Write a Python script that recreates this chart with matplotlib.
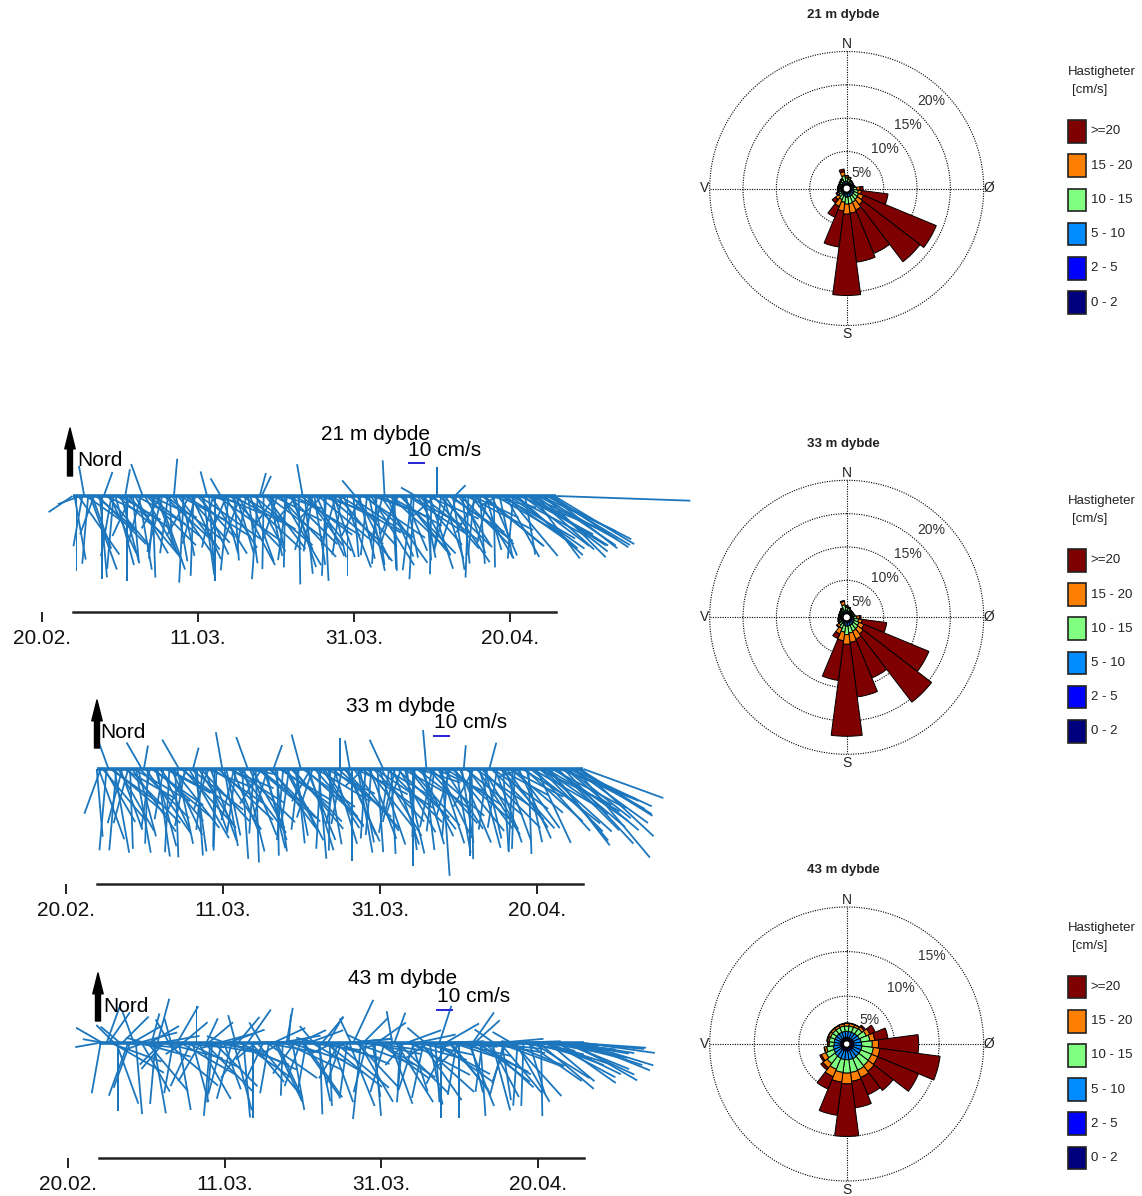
import numpy as np
import pandas as pd
import matplotlib
matplotlib.use("Agg")
import matplotlib.pyplot as plt
import matplotlib.dates as mdates
from matplotlib.patches import Rectangle, FancyArrowPatch

plt.rcParams['font.family'] = ['Liberation Sans', 'DejaVu Sans']

# ---------------- data: current roses (percent of time per direction sector) ----------------
sector_dirs = [0, 15, 30, 45, 60, 75, 90, 105, 120, 135, 150, 165,
               180, 195, 210, 225, 240, 255, 270, 285, 300, 315, 330, 345]
class_labels = ['0 - 2', '2 - 5', '5 - 10', '10 - 15', '15 - 20', '>=20']
class_colors = ['#00007f', '#0000ff', '#008cff', '#80ff80', '#ff8000', '#7f0000']

r21_c0_2 = [.05, .05, .05, .05, .05, .05, .05, .05, .05, .05, .05, .05,
            .05, .05, .05, .05, .05, .05, .05, .05, .05, .05, .05, .05]
r21_c2_5 = [.15, .1, .1, .1, .1, .1, .1, .15, .15, .15, .15, .15,
            .15, .15, .15, .1, .1, .1, .1, .1, .1, .1, .15, .15]
r21_c5_10 = [.35, .3, .25, .2, .2, .25, .3, .4, .45, .45, .5, .5,
             .55, .45, .35, .3, .25, .2, .2, .2, .2, .25, .3, .35]
r21_c10_15 = [.5, .45, .3, .25, .2, .2, .5, .6, .75, .85, .95, 1.05,
              1.05, .9, .7, .5, .35, .3, .25, .25, .25, .3, .35, .85]
r21_c15_20 = [.3, .25, .1, .05, 0, .1, .5, .5, .8, 1.0, 1.3, 1.45,
              1.5, 1.3, 1.1, .6, .25, .15, .15, .15, .15, .15, .15, .6]
r21_c20 = [.05, .05, 0, .05, .05, 0, .45, 4.0, 11.8, 10.8, 7.05, 7.4,
           12.2, 5.45, 1.75, .65, .2, .1, .05, .05, .05, .05, .1, .4]

r33_c0_2 = [.05, .05, .05, .05, .05, .05, .05, .05, .05, .05, .05, .05,
            .05, .05, .05, .05, .05, .05, .05, .05, .05, .05, .05, .05]
r33_c2_5 = [.15, .1, .1, .1, .1, .1, .1, .15, .15, .15, .15, .15,
            .15, .15, .15, .1, .1, .1, .1, .1, .1, .1, .1, .15]
r33_c5_10 = [.3, .25, .2, .2, .2, .2, .3, .4, .45, .5, .5, .55,
             .6, .5, .35, .3, .2, .2, .2, .2, .2, .2, .25, .35]
r33_c10_15 = [.45, .4, .25, .2, .2, .25, .5, .65, .8, .9, 1.0, 1.1,
              1.25, 1.0, .7, .45, .3, .25, .2, .2, .2, .25, .35, .8]
r33_c15_20 = [.2, .15, .05, .05, .05, .1, .4, .55, .8, 1.0, 1.3, 1.4,
              1.45, 1.3, .9, .4, .2, .15, .1, .1, .1, .15, .2, .5]
r33_c20 = [.05, .05, .05, 0, 0, 0, .25, 3.7, 10.55, 12.9, 6.3, 8.25,
           13.8, 6.0, .75, .1, .05, .05, .05, .05, .05, .05, .05, .15]

r43_c0_2 = [.1, .1, .1, .1, .1, .1, .1, .1, .1, .1, .1, .1,
            .1, .1, .1, .1, .1, .1, .1, .1, .1, .1, .1, .1]
r43_c2_5 = [.25, .25, .25, .25, .25, .3, .3, .3, .3, .3, .3, .3,
            .3, .3, .3, .3, .25, .25, .25, .25, .25, .25, .25, .25]
r43_c5_10 = [.7, .7, .7, .75, .8, .85, .9, .95, .95, .95, 1.0, 1.0,
             1.0, 1.0, .95, .9, .85, .8, .7, .7, .7, .7, .7, .7]
r43_c10_15 = [.6, .6, .65, .7, .85, 1.0, 1.2, 1.3, 1.3, 1.35, 1.4, 1.45,
              1.5, 1.45, 1.35, 1.1, .95, .75, .55, .55, .55, .55, .55, .6]
r43_c15_20 = [.3, .3, .25, .3, .45, .55, .7, .75, .75, .8, .9, 1.0,
              1.2, 1.1, .9, .6, .55, .25, .15, .2, .25, .25, .25, .25]
r43_c20 = [.05, .05, .05, .2, .65, 1.5, 4.5, 6.8, 4.95, 2.7, 2.1, 3.0,
           5.9, 3.75, 1.5, .3, .2, .05, .05, .1, .05, .05, .05, .05]

# ---------------- data: stick plots (direction toward, deg; speed, cm/s) ----------------
# series "a": every 12 h from the start; series "b": the samples 6 h later
stick_start_a = '2016-02-23 22:00'
stick_start_b = '2016-02-24 04:00'
stick_step = '12h'
tick_dates = ['2016-02-20', '2016-03-11', '2016-03-31', '2016-04-20']

s21_dir_a = [236, 180, 250, 350, 185, 160, 130, 175, 20, 140,
             190, 165, 120, 125, 180, 205, 150, 170, 340, 135,
             115, 185, 160, 195, 128, 178, 5, 142, 168, 122,
             210, 182, 138, 155, 100, 176, 192, 125, 330, 148,
             186, 118, 163, 200, 133, 172, 92, 152, 15, 181,
             127, 166, 215, 137, 108, 188, 158, 121, 179, 350,
             144, 196, 171, 130, 225, 183, 116, 161, 140, 189,
             270, 124, 175, 153, 206, 131, 168, 110, 184, 145,
             357, 119, 177, 198, 136, 157, 123, 187, 300, 139,
             169, 114, 181, 228, 134, 162, 193, 126, 45, 147,
             174, 117, 138, 186, 211, 129, 164, 104, 179, 240,
             120, 151, 125, 185, 132, 118, 170, 122, 143, 128,
             115, 135, 121, 124, 92]
s21_spd_a = [17, 44, 14, 18, 40, 33, 30, 48, 15, 38,
             36, 42, 28, 35, 50, 26, 39, 44, 20, 41,
             30, 37, 46, 34, 43, 29, 22, 40, 36, 45,
             27, 47, 33, 38, 18, 42, 31, 48, 12, 36,
             44, 39, 35, 28, 46, 40, 16, 37, 14, 43,
             41, 30, 24, 49, 25, 38, 34, 45, 52, 19,
             36, 33, 41, 39, 20, 47, 32, 38, 50, 35,
             11, 44, 36, 42, 26, 37, 45, 30, 40, 48,
             21, 36, 43, 29, 47, 35, 40, 44, 10, 38,
             37, 33, 46, 18, 42, 39, 31, 45, 9, 36,
             40, 44, 38, 35, 25, 47, 33, 28, 42, 13,
             50, 41, 54, 37, 52, 48, 35, 55, 46, 53,
             49, 51, 56, 54, 79]
s21_dir_b = [170, 145, 190, 125, 160, 200, 135, 180, 115, 155,
             185, 130, 165, 10, 140, 175, 120, 195, 150, 128,
             178, 160, 210, 133, 188, 145, 170, 118, 183, 138,
             155, 195, 125, 172, 345, 148, 180, 112, 165, 203,
             136, 176, 152, 122, 190, 160, 130, 184, 25, 143,
             168, 117, 198, 150, 181, 135, 162, 220, 127, 174,
             142, 189, 155, 108, 177, 131, 167, 196, 121, 159,
             180, 138, 320, 166, 124, 186, 148, 172, 113, 194,
             156, 133, 178, 205, 141, 169, 119, 183, 151, 128,
             175, 162, 139, 0, 187, 146, 123, 171, 198, 135,
             160, 182, 115, 149, 176, 130, 193, 157, 120, 168,
             125, 140, 118, 130, 112, 127, 122, 116, 132, 119,
             124, 117, 128, 121]
s21_spd_b = [38, 42, 30, 36, 46, 24, 40, 49, 28, 37,
             43, 35, 41, 16, 47, 39, 33, 31, 44, 38,
             48, 36, 22, 42, 34, 45, 39, 30, 51, 37,
             41, 29, 44, 47, 15, 40, 50, 27, 35, 26,
             43, 38, 46, 37, 32, 41, 45, 49, 13, 39,
             36, 32, 28, 47, 42, 40, 44, 21, 38, 46,
             41, 33, 39, 29, 50, 43, 37, 30, 42, 45,
             47, 40, 12, 38, 44, 35, 48, 41, 31, 28,
             39, 46, 44, 25, 42, 37, 35, 49, 40, 43,
             38, 45, 41, 17, 33, 47, 39, 44, 27, 42,
             36, 48, 30, 43, 40, 45, 29, 38, 41, 37,
             50, 46, 52, 48, 54, 49, 55, 51, 47, 53,
             52, 56, 50, 55]

s33_dir_a = [175, 200, 150, 340, 130, 185, 160, 120, 195, 145,
             170, 135, 10, 182, 125, 165, 140, 190, 118, 155,
             178, 330, 138, 205, 128, 172, 148, 186, 112, 160,
             181, 133, 350, 168, 122, 194, 143, 176, 100, 158,
             184, 130, 212, 166, 136, 20, 179, 126, 152, 188,
             140, 174, 345, 132, 163, 198, 121, 183, 146, 170,
             128, 190, 0, 137, 157, 180, 116, 169, 227, 142,
             185, 124, 161, 335, 134, 177, 193, 150, 119, 173,
             139, 182, 108, 164, 355, 131, 187, 154, 176, 123,
             196, 141, 90, 171, 129, 180, 208, 147, 135, 167,
             15, 126, 189, 138, 160, 117, 183, 144, 250, 132,
             178, 120, 155, 135, 125, 140, 118, 130, 112, 137,
             128, 115, 140, 122, 110]
s33_spd_a = [40, 28, 36, 16, 42, 48, 38, 35, 33, 45,
             50, 41, 14, 44, 37, 47, 40, 30, 32, 43,
             52, 20, 46, 27, 39, 49, 41, 36, 28, 45,
             46, 44, 22, 40, 38, 31, 47, 53, 17, 42,
             38, 45, 24, 48, 43, 15, 51, 36, 40, 35,
             46, 44, 21, 42, 50, 30, 37, 47, 41, 45,
             40, 33, 18, 48, 42, 54, 34, 44, 15, 46,
             39, 41, 47, 19, 45, 50, 32, 43, 36, 48,
             44, 40, 26, 46, 23, 42, 37, 45, 63, 39,
             30, 47, 12, 44, 43, 51, 25, 46, 49, 42,
             16, 40, 35, 47, 45, 36, 48, 43, 14, 46,
             50, 44, 48, 52, 46, 55, 49, 53, 50, 60,
             47, 52, 68, 50, 50]
s33_dir_b = [160, 140, 185, 125, 170, 150, 195, 135, 178, 120,
             165, 330, 145, 188, 130, 172, 155, 118, 183, 142,
             168, 127, 190, 150, 15, 176, 137, 160, 200, 124,
             182, 146, 170, 113, 157, 188, 134, 166, 340, 151,
             178, 129, 162, 196, 143, 172, 121, 185, 153, 136,
             169, 187, 126, 158, 210, 139, 175, 148, 117, 181,
             163, 132, 191, 155, 350, 144, 170, 125, 184, 159,
             136, 176, 149, 121, 189, 161, 133, 198, 167, 142,
             180, 127, 154, 173, 138, 192, 115, 162, 147, 185,
             131, 170, 157, 5, 143, 179, 124, 165, 150, 188,
             134, 160, 118, 176, 145, 130, 182, 155, 122, 168,
             128, 138, 116, 132, 120, 142, 125, 135, 112, 130,
             118, 126, 122, 133]
s33_spd_b = [44, 39, 48, 36, 50, 42, 33, 45, 47, 38,
             41, 18, 46, 35, 43, 52, 40, 30, 49, 44,
             45, 37, 34, 47, 13, 51, 42, 39, 26, 36,
             48, 43, 46, 29, 41, 38, 45, 50, 20, 40,
             55, 37, 44, 31, 46, 49, 35, 42, 47, 43,
             40, 36, 38, 45, 22, 44, 53, 41, 32, 48,
             46, 42, 33, 47, 17, 45, 50, 37, 41, 44,
             43, 49, 46, 34, 38, 47, 42, 28, 51, 45,
             57, 39, 44, 48, 43, 35, 31, 46, 42, 40,
             45, 50, 47, 14, 44, 53, 37, 48, 41, 36,
             43, 46, 33, 49, 42, 40, 47, 45, 38, 44,
             52, 49, 48, 55, 50, 57, 53, 51, 47, 56,
             50, 54, 52, 58]

s43_dir_a = [260, 300, 20, 110, 315, 180, 45, 95, 200, 340,
             75, 150, 285, 60, 170, 15, 225, 105, 330, 190,
             30, 120, 240, 90, 165, 0, 210, 135, 50, 185,
             100, 255, 160, 70, 195, 345, 115, 175, 35, 140,
             230, 88, 205, 125, 270, 155, 80, 182, 10, 108,
             215, 65, 145, 190, 98, 320, 168, 40, 128, 178,
             245, 112, 200, 85, 158, 25, 137, 186, 295, 102,
             172, 55, 122, 196, 92, 350, 148, 183, 220, 106,
             162, 78, 132, 192, 235, 118, 176, 18, 94, 207,
             142, 103, 180, 260, 115, 166, 48, 127, 188, 96,
             152, 305, 110, 171, 199, 88, 138, 184, 275, 101,
             163, 122, 93, 179, 108, 130, 97, 116, 104, 112,
             100, 120, 95, 107, 98]
s43_spd_a = [14, 18, 26, 32, 15, 40, 22, 30, 28, 20,
             24, 33, 12, 20, 42, 27, 18, 35, 16, 30,
             25, 38, 13, 28, 36, 22, 26, 41, 19, 35,
             31, 11, 29, 23, 34, 17, 37, 44, 24, 30,
             15, 33, 27, 36, 10, 38, 25, 31, 21, 34,
             22, 18, 39, 29, 30, 13, 35, 20, 42, 37,
             14, 33, 26, 27, 40, 28, 36, 45, 12, 31,
             32, 21, 38, 30, 35, 19, 41, 28, 17, 36,
             30, 24, 43, 33, 16, 39, 35, 23, 32, 27,
             37, 34, 44, 15, 40, 30, 20, 38, 29, 33,
             36, 14, 41, 34, 25, 30, 42, 37, 12, 35,
             31, 39, 36, 43, 40, 35, 38, 42, 37, 41,
             36, 44, 40, 45, 42]
s43_dir_b = [190, 280, 35, 120, 160, 310, 90, 200, 60, 175,
             105, 250, 140, 15, 185, 80, 220, 130, 345, 95,
             170, 50, 115, 205, 265, 150, 100, 25, 185, 135,
             75, 195, 290, 110, 165, 40, 125, 215, 88, 180,
             140, 330, 100, 190, 65, 155, 240, 115, 5, 170,
             92, 200, 145, 70, 120, 285, 178, 105, 30, 160,
             130, 210, 85, 188, 335, 110, 150, 45, 195, 98,
             175, 125, 255, 90, 160, 20, 135, 185, 70, 118,
             198, 102, 145, 310, 168, 88, 125, 180, 60, 140,
             108, 190, 225, 95, 158, 35, 120, 176, 132, 100,
             165, 85, 140, 195, 112, 300, 150, 98, 182, 125,
             105, 92, 130, 110, 100, 118, 96, 125, 103, 115,
             99, 108, 94, 112]
s43_spd_b = [30, 13, 22, 35, 38, 15, 27, 33, 20, 42,
             31, 12, 37, 18, 36, 24, 20, 39, 15, 29,
             40, 19, 34, 28, 11, 38, 32, 16, 43, 36,
             23, 31, 12, 37, 41, 20, 35, 25, 30, 44,
             39, 14, 33, 30, 21, 36, 15, 38, 17, 40,
             28, 27, 39, 22, 35, 12, 42, 34, 18, 37,
             41, 24, 29, 33, 16, 37, 40, 21, 30, 32,
             43, 36, 13, 31, 38, 19, 42, 35, 22, 40,
             29, 34, 41, 14, 37, 30, 39, 44, 23, 36,
             33, 31, 19, 35, 40, 22, 37, 43, 39, 34,
             41, 28, 38, 32, 36, 13, 40, 33, 37, 39,
             37, 35, 42, 38, 40, 43, 36, 41, 39, 44,
             38, 42, 40, 43]

# ---------------- figure ----------------
W, H = 1142, 1196
fig = plt.figure(figsize=(W / 100, H / 100), dpi=100)
fig.patch.set_facecolor('white')


def fx(px):
    return px / W


def fy(py):
    return 1 - py / H


PXCM = 1.7          # pixels per cm/s in the stick plots
STICK = '#1b76bd'
d0 = mdates.date2num(pd.Timestamp('2016-02-20'))


def stick_panel(dirs_a, spds_a, dirs_b, spds_b, title, x0, pxday, yb, top, bot, axis_px,
                title_xy, scale_xy, bar_xy, nord_xy, arrow_x, arrow_y0, arrow_y1):
    ax = fig.add_axes([0, fy(bot), 700 / W, (bot - top) / H])
    ax.set_xlim(d0 - x0 / pxday, d0 + (700 - x0) / pxday)
    ax.set_ylim(-(bot - yb) / PXCM, (yb - top) / PXCM)
    ta = mdates.date2num(pd.date_range(stick_start_a, periods=len(dirs_a), freq=stick_step))
    tb = mdates.date2num(pd.date_range(stick_start_b, periods=len(dirs_b), freq=stick_step))
    t = np.concatenate([ta, tb])
    th = np.deg2rad(np.concatenate([np.asarray(dirs_a, float), np.asarray(dirs_b, float)]))
    s = np.concatenate([np.asarray(spds_a, float), np.asarray(spds_b, float)])
    u = s * np.sin(th)
    v = s * np.cos(th)
    ax.plot([ta[0], ta[-1]], [0, 0], color=STICK, lw=2.6, solid_capstyle='butt', zorder=2)
    ax.quiver(t, np.zeros_like(t), u, v, angles='uv', scale_units='y', scale=1,
              units='dots', width=1.8, headwidth=0, headlength=0, headaxislength=0,
              color=STICK, zorder=3)
    # scale bar 10 cm/s
    sx = d0 + (bar_xy[0] - x0) / pxday
    sy = (yb - bar_xy[1]) / PXCM
    ax.quiver([sx], [sy], [10], [0], angles='uv', scale_units='y', scale=1,
              units='dots', width=2.6, headwidth=0, headlength=0, headaxislength=0,
              color='#2a2ad6', zorder=3)
    for sp in ['top', 'right', 'left']:
        ax.spines[sp].set_visible(False)
    ax.spines['bottom'].set_position(('data', -(axis_px - yb) / PXCM))
    ax.spines['bottom'].set_bounds(ta[0], ta[-1])
    ax.spines['bottom'].set_linewidth(1.8)
    ax.spines['bottom'].set_color('#222222')
    ax.set_yticks([])
    ax.set_xticks(mdates.date2num(pd.to_datetime(tick_dates)))
    ax.xaxis.set_major_formatter(mdates.DateFormatter('%d.%m.'))
    ax.tick_params(axis='x', direction='out', length=7, width=1.4, color='#222222',
                   labelsize=15, pad=5, labelcolor='#111111')
    ax.patch.set_visible(False)

    fig.text(fx(title_xy[0]), fy(title_xy[1]), title, ha='center', va='center', fontsize=15)
    fig.text(fx(scale_xy[0]), fy(scale_xy[1]), '10 cm/s', ha='left', va='center', fontsize=15)
    fig.text(fx(nord_xy[0]), fy(nord_xy[1]), 'Nord', ha='left', va='center', fontsize=15)
    arr = FancyArrowPatch((fx(arrow_x), fy(arrow_y0)), (fx(arrow_x), fy(arrow_y1)),
                          transform=fig.transFigure,
                          arrowstyle='simple,head_length=1.5,head_width=0.75,tail_width=0.36',
                          mutation_scale=10, color='black', shrinkA=0, shrinkB=0)
    fig.add_artist(arr)


stick_panel(s21_dir_a, s21_spd_a, s21_dir_b, s21_spd_b, '21 m dybde', 42, 7.8, 496, 415, 655, 612,
            (376, 434), (408, 451), (408, 463), (77, 461), 70, 476, 428)
stick_panel(s33_dir_a, s33_spd_a, s33_dir_b, s33_spd_b, '33 m dybde', 66, 7.85, 769, 688, 930, 884,
            (401, 706), (434, 723), (433, 736), (100, 733), 97, 748, 700)
stick_panel(s43_dir_a, s43_spd_a, s43_dir_b, s43_spd_b, '43 m dybde', 68, 7.83, 1043, 960, 1196, 1158,
            (403, 979), (437, 997), (436, 1010), (103, 1006), 98, 1021, 973)


def rose(cx, cy, rmax, rorig, classes, title, rings, lab_dr):
    R = 137
    ax = fig.add_axes([fx(cx - R), fy(cy + R), 2 * R / W, 2 * R / H], projection='polar')
    ax.set_theta_zero_location('N')
    ax.set_theta_direction(-1)
    theta = np.deg2rad(sector_dirs)
    width = np.deg2rad(15)
    bottom = np.zeros(len(sector_dirs))
    for vals, col in zip(classes, class_colors):
        vals = np.asarray(vals, float)
        ax.bar(theta, vals, width=width, bottom=bottom, color=col,
               edgecolor='black', linewidth=0.7, zorder=3)
        bottom = bottom + vals
    ax.set_ylim(0, rmax)
    ax.set_rorigin(rorig)
    ax.set_yticks(rings[:-1])
    ax.set_yticklabels([])
    ax.set_xticks(np.deg2rad([0, 90, 180, 270]))
    ax.set_xticklabels([])
    ax.grid(True, color='black', linestyle=(0, (1, 1.2)), linewidth=0.8)
    ax.set_axisbelow(True)
    for sp in ax.spines.values():
        sp.set_visible(False)
    ring = np.linspace(0, 2 * np.pi, 361)
    ax.plot(ring, np.full_like(ring, rmax), color='black', lw=0.8,
            linestyle=(0, (1, 1.2)), clip_on=False, zorder=2)
    ax.plot(ring, np.zeros_like(ring), color='black', lw=2.2, zorder=4)
    for rv in rings:
        ax.text(np.deg2rad(44), rv - lab_dr, f'{rv}%', ha='center', va='center',
                fontsize=10, color='#333333')
    # compass labels
    fig.text(fx(cx), fy(cy - 144), 'N', ha='center', va='center', fontsize=10, color='#222222')
    fig.text(fx(cx), fy(cy + 146), 'S', ha='center', va='center', fontsize=10, color='#222222')
    fig.text(fx(cx - 142), fy(cy), 'V', ha='center', va='center', fontsize=10, color='#222222')
    fig.text(fx(cx + 142), fy(cy), 'Ø', ha='center', va='center', fontsize=10, color='#222222')
    fig.text(fx(cx - 3.4), fy(cy - 173.5), title, ha='center', va='center',
             fontsize=9.5, fontweight='bold', color='#222222')
    # legend
    fig.text(fx(1068), fy(cy - 116), 'Hastigheter', ha='left', va='center', fontsize=9.5, color='#222222')
    fig.text(fx(1071.7), fy(cy - 98.5), '[cm/s]', ha='left', va='center', fontsize=9.5, color='#222222')
    offs = [-57, -22.8, 11.4, 45.6, 79.8, 114]
    for lab, col, off in zip(class_labels[::-1], class_colors[::-1], offs):
        fig.add_artist(Rectangle((fx(1067.7), fy(cy + off + 11.35)), 18.3 / W, 22.7 / H,
                                 transform=fig.transFigure, facecolor=col,
                                 edgecolor='#222222', lw=1.2))
        fig.text(fx(1090.7), fy(cy + off), lab, ha='left', va='center', fontsize=9.5, color='#222222')


rose(846.7, 188.5, 20, -0.55,
     [r21_c0_2, r21_c2_5, r21_c5_10, r21_c10_15, r21_c15_20, r21_c20],
     '21 m dybde', [5, 10, 15, 20], 2.4)
rose(846.7, 617.3, 20, -0.55,
     [r33_c0_2, r33_c2_5, r33_c5_10, r33_c10_15, r33_c15_20, r33_c20],
     '33 m dybde', [5, 10, 15, 20], 2.4)
rose(846.7, 1044, 15, -0.37,
     [r43_c0_2, r43_c2_5, r43_c5_10, r43_c10_15, r43_c15_20, r43_c20],
     '43 m dybde', [5, 10, 15], 1.65)

fig.savefig('out.png', dpi=100, facecolor='white')
